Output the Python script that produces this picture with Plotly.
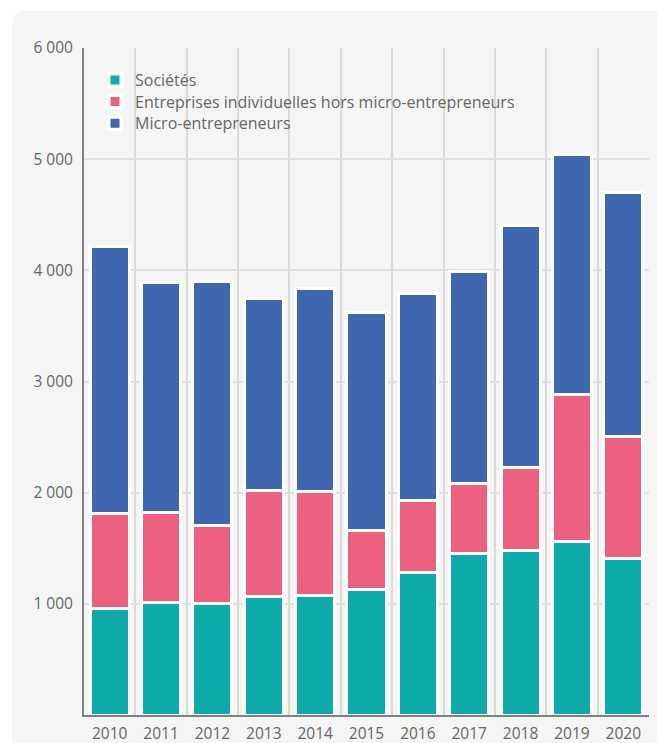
import plotly.graph_objects as go

years = [2010, 2011, 2012, 2013, 2014, 2015, 2016, 2017, 2018, 2019, 2020]
societes = [956, 1010, 1001, 1064, 1073, 1127, 1285, 1455, 1482, 1559, 1410]
ei_hors_micro = [861, 810, 706, 958, 936, 535, 647, 626, 747, 1322, 1098]
micro = [2397, 2070, 2192, 1724, 1827, 1958, 1859, 1908, 2174, 2160, 2192]

series_names = ["Sociétés", "Entreprises individuelles hors micro-entrepreneurs", "Micro-entrepreneurs"]
series_colors = ["#0FAAAA", "#EC617F", "#3E67B0"]

y_tickvals = [1000, 2000, 3000, 4000, 5000, 6000]
y_ticktext = ["1 000", "2 000", "3 000", "4 000", "5 000", "6 000"]

# page body has an 8px margin: figure pixel = screen pixel - 8
OFF = 8
W, H = 665 - OFF, 743 - OFF
ML, MT = 84 - OFF, 48 - OFF
MR = W - (649 - OFF)
MB = H - (715 - OFF)
PW, PH = W - ML - MR, H - MT - MB

def px_x(p):
    return (p - OFF - ML) / PW

def px_y(p):
    return (H + OFF - MB - p) / PH

legend_ids = ["legend", "legend2", "legend3"]
legend_rows = [80, 101.7, 123.3]

fig = go.Figure()
for name, vals, col, lid in zip(series_names, [societes, ei_hors_micro, micro], series_colors, legend_ids):
    fig.add_trace(go.Bar(
        x=years, y=vals, name=name, legend=lid,
        marker=dict(color=col, line=dict(color="white", width=3)),
        width=0.76,
    ))

# rounded background panel (screen coordinates)
l, t, r, b, rad = 12, 11, 667, 770, 15
path = (
    f"M {px_x(l)},{px_y(t + rad)} "
    f"Q {px_x(l)},{px_y(t)} {px_x(l + rad)},{px_y(t)} "
    f"L {px_x(r - rad)},{px_y(t)} "
    f"Q {px_x(r)},{px_y(t)} {px_x(r)},{px_y(t + rad)} "
    f"L {px_x(r)},{px_y(b)} L {px_x(l)},{px_y(b)} Z"
)
fig.add_shape(type="path", path=path, xref="paper", yref="paper",
              fillcolor="#F5F5F5", line=dict(width=0), layer="below")

# legend background box hiding the grid behind the legend
fig.add_shape(type="rect", xref="paper", yref="paper",
              x0=px_x(98), x1=px_x(522), y0=px_y(142), y1=px_y(62),
              fillcolor="#F5F5F5", line=dict(width=0), layer="between")

font_family = "Open Sans, Noto Sans, sans-serif"
legend_style = dict(
    xanchor="left", yanchor="middle",
    bgcolor="rgba(0,0,0,0)", borderwidth=0,
    font=dict(size=16, color="#666666", family=font_family),
    itemclick=False, itemdoubleclick=False,
)
legends = {}
for lid, row in zip(legend_ids, legend_rows):
    legends[lid] = dict(legend_style, x=px_x(95), y=px_y(row))

fig.update_layout(
    width=W, height=H,
    margin=dict(l=ML, r=MR, t=MT, b=MB, pad=0, autoexpand=False),
    paper_bgcolor="white",
    plot_bgcolor="#F5F5F5",
    barmode="stack",
    font=dict(family=font_family, size=15.5, color="#666666"),
    showlegend=True,
    **legends,
    xaxis=dict(
        range=[years[0] - 0.5, years[-1] + 0.5],
        tickvals=years, ticktext=[str(y) for y in years],
        showgrid=False, zeroline=False, automargin=False,
        showline=True, linecolor="#808080", linewidth=2,
        ticks="", ticklabelstandoff=3,
        minor=dict(tickvals=[y + 0.5 for y in years[:-1]], showgrid=True,
                   gridcolor="#DADADA", gridwidth=1.5, ticks=""),
        fixedrange=True,
    ),
    yaxis=dict(
        range=[0, 6000],
        tickvals=y_tickvals, ticktext=y_ticktext,
        showgrid=True, gridcolor="#E0E0E0", gridwidth=2,
        zeroline=False, automargin=False,
        showline=True, linecolor="#808080", linewidth=2,
        ticks="", ticklabelstandoff=6,
        fixedrange=True,
    ),
)

fig.write_html("out.html")
